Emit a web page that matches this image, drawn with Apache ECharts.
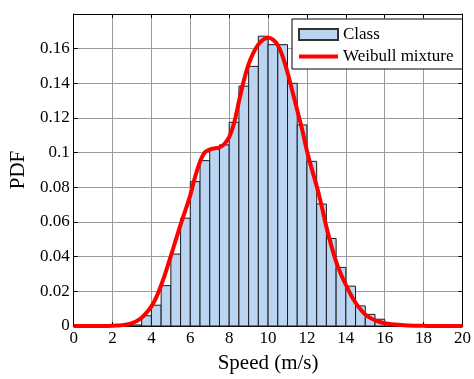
<!DOCTYPE html>
<html>
<head>
<meta charset="utf-8">
<script src="https://cdn.jsdelivr.net/npm/echarts@6/dist/echarts.min.js"></script>
<style>
  html, body { margin: 0; padding: 0; background: #fff; }
  #chart { width: 474px; height: 379px; }
</style>
</head>
<body>
<div id="chart"></div>
<script>
// Histogram bins of wind speed (m/s), width 0.5
const binStarts = [2.5, 3.0, 3.5, 4.0, 4.5, 5.0, 5.5, 6.0, 6.5, 7.0, 7.5, 8.0, 8.5, 9.0, 9.5,
                   10.0, 10.5, 11.0, 11.5, 12.0, 12.5, 13.0, 13.5, 14.0, 14.5, 15.0, 15.5, 16.0];
const binWidth = 0.5;
const classPdf = [0.0002, 0.0006, 0.0059, 0.0120, 0.0233, 0.0415, 0.0622, 0.0833, 0.0954, 0.1019, 0.1045,
                  0.1175, 0.1384, 0.1498, 0.1672, 0.1623, 0.1623, 0.1400, 0.1160, 0.0950, 0.0704,
                  0.0505, 0.0338, 0.0230, 0.0116, 0.0067, 0.0039, 0.0010];

// Fitted Weibull mixture density
const fitSpeed = [0, 0.5, 1, 1.5, 2, 2.25, 2.5, 2.75, 3, 3.25, 3.5, 3.75, 4, 4.25, 4.5, 4.75, 5, 5.25,
                  5.5, 5.75, 6, 6.25, 6.5, 6.75, 7, 7.25, 7.5, 7.75, 8, 8.25, 8.5, 8.75, 9, 9.25, 9.5,
                  9.75, 10, 10.25, 10.5, 10.75, 11, 11.25, 11.5, 11.75, 12, 12.25, 12.5, 12.75, 13,
                  13.25, 13.5, 13.75, 14, 14.25, 14.5, 14.75, 15, 15.25, 15.5, 15.75, 16, 16.5, 17,
                  17.5, 18, 18.5, 19, 19.5, 20];
const fitPdf = [0, 0, 0, 0, 0.0001, 0.0003, 0.0005, 0.0009, 0.0017, 0.0029, 0.0048, 0.0077, 0.0113,
                0.0165, 0.0235, 0.0315, 0.0405, 0.0495, 0.0585, 0.0668, 0.0755, 0.0862, 0.0948,
                0.1002, 0.1018, 0.1025, 0.1030, 0.1050, 0.1090, 0.1170, 0.1295, 0.1415, 0.1510,
                0.1577, 0.1625, 0.1652, 0.1663, 0.1652, 0.1620, 0.1555, 0.1463, 0.1355, 0.1245,
                0.1135, 0.1010, 0.0905, 0.0808, 0.0695, 0.0571, 0.0465, 0.0371, 0.0298, 0.0238,
                0.0182, 0.0134, 0.0097, 0.0067, 0.0047, 0.0033, 0.0023, 0.0016, 0.0008, 0.0004,
                0.0002, 0.0001, 0, 0, 0, 0];

const xTicks = [0, 2, 4, 6, 8, 10, 12, 14, 16, 18, 20];
const yTicks = [0, 0.02, 0.04, 0.06, 0.08, 0.1, 0.12, 0.14, 0.16];

const FONT = 'Liberation Serif';
const barData = binStarts.map((s, i) => [s, s + binWidth, classPdf[i]]);
const lineData = fitSpeed.map((x, i) => [x, fitPdf[i]]);

const chart = echarts.init(document.getElementById('chart'), null, { renderer: 'canvas' });

const gridLine = { show: true, lineStyle: { color: '#9a9a9a', width: 1 } };
const frame = { show: true, onZero: false, lineStyle: { color: '#000', width: 1 } };
const innerTick = { show: true, inside: true, length: 4, lineStyle: { color: '#000' } };

chart.setOption({
  animation: false,
  backgroundColor: '#fff',
  grid: { left: 72, right: 8, top: 14, bottom: 50.5, containLabel: false },
  xAxis: [
    {
      type: 'value', min: 0, max: 20, interval: 2,
      name: 'Speed (m/s)', nameLocation: 'middle', nameGap: 27,
      nameTextStyle: { fontFamily: FONT, fontSize: 21, color: '#000' },
      axisLine: frame,
      axisTick: innerTick,
      axisLabel: { fontFamily: FONT, fontSize: 17, color: '#000', margin: 4,
                   formatter: v => xTicks.includes(v) ? String(v) : '' },
      splitLine: gridLine
    },
    {
      type: 'value', position: 'top', min: 0, max: 20, interval: 2,
      axisLine: frame,
      axisTick: innerTick,
      axisLabel: { show: false }, splitLine: { show: false }
    }
  ],
  yAxis: [
    {
      type: 'value', min: 0, max: 0.18, interval: 0.02,
      name: 'PDF', nameLocation: 'middle', nameGap: 37,
      nameTextStyle: { fontFamily: FONT, fontSize: 21, color: '#000' },
      axisLine: frame,
      axisTick: innerTick,
      axisLabel: { fontFamily: FONT, fontSize: 17, color: '#000', margin: 4,
                   formatter: v => {
                     const t = yTicks.find(k => Math.abs(k - v) < 1e-9);
                     return t === undefined ? '' : String(t);
                   } },
      splitLine: gridLine
    },
    {
      type: 'value', position: 'right', min: 0, max: 0.18, interval: 0.02,
      axisLine: frame,
      axisTick: innerTick,
      axisLabel: { show: false }, splitLine: { show: false }
    }
  ],
  legend: {
    orient: 'vertical', left: 292, top: 19,
    backgroundColor: '#fff', borderColor: '#000', borderWidth: 1,
    padding: [7, 9, 4, 6], itemGap: 5,
    itemWidth: 39, itemHeight: 11, symbolKeepAspect: true,
    textStyle: { fontFamily: FONT, fontSize: 17, color: '#000' },
    data: [
      { name: 'Class', icon: 'rect' },
      { name: 'Weibull mixture', icon: 'path://M0,0 L39,0 L39,4 L0,4 Z',
        itemStyle: { color: '#ff0000', borderWidth: 0 } }
    ]
  },
  series: [
    {
      name: 'Class', type: 'custom',
      xAxisIndex: 0, yAxisIndex: 0,
      itemStyle: { color: '#bad4f1', borderColor: '#333', borderWidth: 1 },
      encode: { x: [0, 1], y: 2 },
      renderItem: (params, api) => {
        const p0 = api.coord([api.value(0), 0]);
        const p1 = api.coord([api.value(1), api.value(2)]);
        return {
          type: 'rect',
          shape: { x: p0[0], y: p1[1], width: p1[0] - p0[0], height: p0[1] - p1[1] },
          style: { fill: '#bad4f1', stroke: '#1a1a1a', lineWidth: 1 }
        };
      },
      data: barData,
      z: 2
    },
    {
      name: 'Weibull mixture', type: 'line',
      xAxisIndex: 0, yAxisIndex: 0,
      smooth: 0.3, symbol: 'none',
      lineStyle: { color: '#ff0000', width: 4 },
      itemStyle: { color: '#ff0000' },
      data: lineData,
      z: 3
    }
  ]
});
</script>
</body>
</html>
